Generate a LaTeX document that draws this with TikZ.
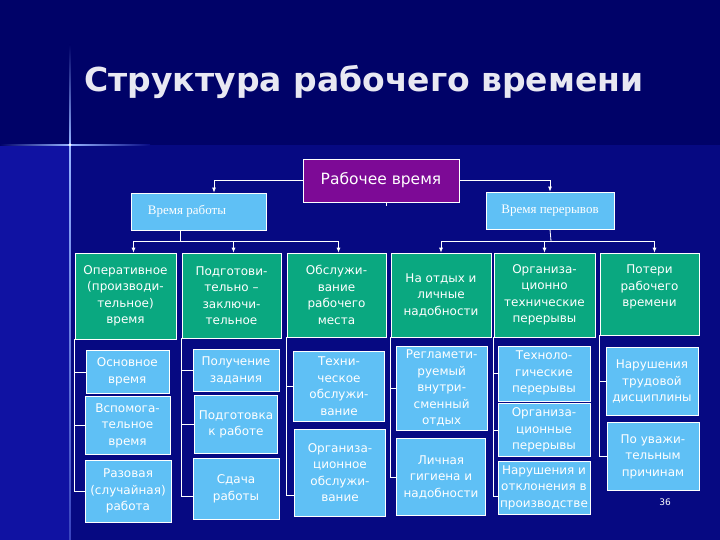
\documentclass[tikz,border=0pt]{standalone}
\usepackage{fontspec}
\usetikzlibrary{arrows.meta}
\newfontfamily\boxfont{DejaVu Sans}
\newfontfamily\oldfont{Liberation Serif}
\definecolor{bgtop}{RGB}{0,2,104}
\definecolor{bglow}{RGB}{6,9,130}
\definecolor{bgleft}{RGB}{16,18,162}
\definecolor{glow}{RGB}{150,180,255}
\definecolor{boxpurple}{RGB}{125,10,150}
\definecolor{boxgreen}{RGB}{10,168,128}
\definecolor{boxblue}{RGB}{95,192,245}
\definecolor{titlegray}{RGB}{232,232,242}

\begin{document}
\begin{tikzpicture}[x=1pt,y=-1pt,
    line/.style={draw=white,line width=0.8pt},
    arr/.style={line,-{Latex[length=5pt,width=4pt]}},
    topbox/.style={draw=white,line width=0.8pt,fill=boxpurple,text=white,inner sep=0pt,
        font=\boxfont\fontsize{15.5}{18}\selectfont,minimum width=156pt,minimum height=43pt},
    midbox/.style={draw=white,line width=0.8pt,fill=boxblue,text=white,inner sep=0pt,
        font=\oldfont\fontsize{13}{15}\selectfont,minimum height=37pt},
    gbox/.style={draw=white,line width=0.6pt,fill=boxgreen,text=white,inner sep=0pt,align=center,
        font=\boxfont\fontsize{12}{16.5}\selectfont},
    sbox/.style={draw=white,line width=0.6pt,fill=boxblue,text=white,inner sep=0pt,align=center,
        font=\boxfont\fontsize{12}{16.5}\selectfont}]
	\useasboundingbox (0,0) rectangle (720,540);
	% background
	\fill[bgtop] (0,0) rectangle (720,145);
	\fill[bglow] (0,145) rectangle (720,540);
	\fill[bgleft] (0,145) rectangle (70,540);
	\shade[top color=bgtop,bottom color=glow] (69.2,45) rectangle (70.8,145);
	\shade[top color=glow,bottom color=bgleft!70!glow] (69.2,145) rectangle (70.8,540);
	\shade[left color=bgtop,right color=glow] (0,144.2) rectangle (70,145.8);
	\shade[left color=glow,right color=bglow] (70,144.2) rectangle (150,145.8);
	\fill[white] (70,145) circle (1.5);

	\node[text=titlegray,font=\boxfont\bfseries\fontsize{33}{36}\selectfont,anchor=base] (title) at (364,92) {Структура рабочего времени};

	% levels 1 and 2
	\node[topbox] (rv) at (381,180.5) {Рабочее время};
	\node[midbox,minimum width=135pt] (vr) at (199,211.5) {Время работы\hspace*{24pt}};
	\node[midbox,minimum width=128pt] (vp) at (550,210.5) {Время перерывов};

	% level 3
	\node[gbox,minimum width=101pt,minimum height=86pt] (g1) at (125.5,296) {Оперативное\\(производи-\\тельное)\\время};
	\node[gbox,minimum width=99pt,minimum height=85pt] (g2) at (231.5,295.5) {Подготови-\\тельно –\\заключи-\\тельное};
	\node[gbox,minimum width=99pt,minimum height=84pt] (g3) at (336.5,295) {Обслужи-\\вание\\рабочего\\места};
	\node[gbox,minimum width=100pt,minimum height=84pt] (g4) at (441,295) {На отдых и\\личные\\надобности};
	\node[gbox,minimum width=101pt,minimum height=84pt] (g5) at (544.5,295) {Организа-\\ционно\\технические\\перерывы};
	\node[gbox,minimum width=99pt,minimum height=82pt] (g6) at (649.5,294) {Потери\\рабочего\\времени\\\mbox{}};

	% level 4
	\node[sbox,minimum width=83pt,minimum height=43pt] (s11) at (127.3,372) {Основное\\время};
	\node[sbox,minimum width=85pt,minimum height=58pt] (s12) at (127.5,425.5) {Вспомога-\\тельное\\время};
	\node[sbox,minimum width=86pt,minimum height=62pt] (s13) at (128,491) {Разовая\\(случайная)\\работа};
	\node[sbox,minimum width=86pt,minimum height=42pt] (s21) at (236,370.5) {Получение\\задания};
	\node[sbox,minimum width=83pt,minimum height=58pt] (s22) at (236,424.5) {Подготовка\\к работе};
	\node[sbox,minimum width=86pt,minimum height=61pt] (s23) at (236,489) {Сдача\\работы};
	\node[sbox,minimum width=91pt,minimum height=70pt] (s31) at (339,386) {Техни-\\ческое\\обслужи-\\вание};
	\node[sbox,minimum width=91pt,minimum height=87pt] (s32) at (340,472.5) {Организа-\\ционное\\обслужи-\\вание};
	\node[sbox,minimum width=91pt,minimum height=84pt] (s41) at (441.7,388) {Регламети-\\руемый\\внутри-\\сменный\\отдых};
	\node[sbox,minimum width=89pt,minimum height=77pt] (s42) at (441,477) {Личная\\гигиена и\\надобности};
	\node[sbox,minimum width=92pt,minimum height=55pt] (s51) at (544,373.3) {Техноло-\\гические\\перерывы};
	\node[sbox,minimum width=92pt,minimum height=53pt] (s52) at (544,430) {Организа-\\ционные\\перерывы};
	\node[sbox,minimum width=92pt,minimum height=53pt] (s53) at (544,487.5) {Нарушения и\\отклонения в\\производстве};
	\node[sbox,minimum width=92pt,minimum height=68pt] (s61) at (652,381.5) {Нарушения\\трудовой\\дисциплины};
	\node[sbox,minimum width=92pt,minimum height=68pt] (s62) at (653,456.7) {По уважи-\\тельным\\причинам};

	\node[text=white,font=\boxfont\fontsize{9}{10}\selectfont] (page) at (665,502) {36};

	% connectors
	\draw[arr] (rv.west) -| ([xshift=15pt]vr.north);
	\draw[arr] (rv.east) -| (vp.north);
	\draw[line] ([xshift=5pt]rv.south) -- ++(0,4);
	\coordinate (busl) at (180,241);
	\coordinate (busr) at (551,241);
	\draw[line] ([xshift=-19pt]vr.south) -- (busl);
	\draw[line] (vp.south) -- (busr);
	\draw[arr] (busl) -| ([xshift=8pt]g1.north);
	\draw[arr] (busl) -| ([xshift=2pt]g2.north);
	\draw[arr] (busl) -| ([xshift=2pt]g3.north);
	\draw[arr] (busr) -| (g4.north);
	\draw[arr] (busr) -| (g5.north);
	\draw[arr] (busr) -| ([xshift=5pt]g6.north);

	\draw[line] (g1.south west) |- (s13.west);
	\draw[line] (g1.south west |- s11.west) -- (s11.west);
	\draw[line] (g1.south west |- s12.west) -- (s12.west);
	\draw[line] (g2.south west) |- ([yshift=-7pt]s23.west);
	\draw[line] (g2.south west |- s21.west) -- (s21.west);
	\draw[line] (g2.south west |- s22.west) -- (s22.west);
	\draw[line] (g3.south west) |- ([yshift=-23pt]s32.west);
	\draw[line] (g3.south west |- s31.west) -- (s31.west);
	\draw[line] (g4.south west) |- (s42.west);
	\draw[line] (g4.south west |- s41.west) -- (s41.west);
	\draw[line] (g5.south west) |- ([yshift=-9pt]s53.west);
	\draw[line] (g5.south west |- s51.west) -- (s51.west);
	\draw[line] (g5.south west |- s52.west) -- (s52.west);
	\draw[line] (g6.south west) |- (s62.west);
	\draw[line] (g6.south west |- s61.west) -- (s61.west);
\end{tikzpicture}
\end{document}
